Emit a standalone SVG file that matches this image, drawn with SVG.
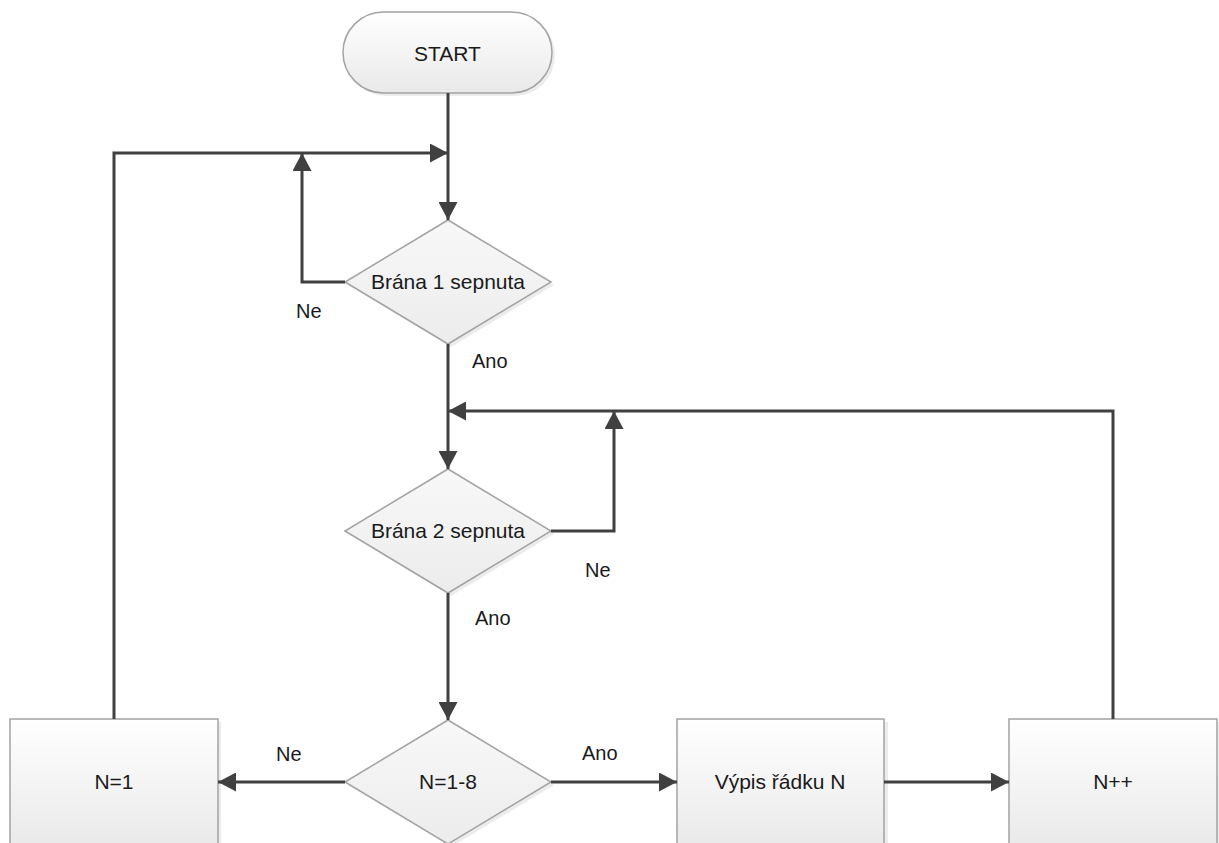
<svg xmlns="http://www.w3.org/2000/svg" width="1219" height="843" viewBox="0 0 1219 843">
<style>
.shape{stroke:#a3a3a3;stroke-width:1.5;}
.txt{font-family:"Liberation Sans",Arial,sans-serif;font-size:20px;fill:#1a1a1a;}
.big{font-size:21px;}
.mid{text-anchor:middle;}
.conn{fill:none;stroke:#404040;stroke-width:3;}
.shadow{fill:#d9d9d9;opacity:0.5;}
</style>
<defs>
<linearGradient id="g" x1="0" y1="0" x2="0" y2="1">
<stop offset="0" stop-color="#ffffff"/>
<stop offset="1" stop-color="#e9e9e9"/>
</linearGradient>
<linearGradient id="gd" x1="0" y1="0" x2="0" y2="1">
<stop offset="0" stop-color="#f8f8f8"/>
<stop offset="1" stop-color="#ececec"/>
</linearGradient>
<marker id="arr" markerUnits="userSpaceOnUse" markerWidth="19" markerHeight="19" refX="18" refY="9.5" orient="auto">
<path d="M0,0 L18,9.5 L0,19 z" fill="#404040"/>
</marker>
</defs>
<rect width="1219" height="843" fill="#ffffff"/>

<g id="start">
<rect class="shadow" x="346" y="15" width="209" height="81" rx="40.5"/>
<rect class="shape" x="343" y="12" width="209" height="81" rx="40.5" fill="url(#g)"/>
<text class="txt big mid" x="447.5" y="61">START</text>
</g>

<g id="d1">
<polygon class="shadow" points="451,223 554,285 451,347 348,285"/>
<polygon class="shape" points="448,220 551,282 448,344 345,282" fill="url(#gd)"/>
<text class="txt big mid" x="448" y="289">Brána 1 sepnuta</text>
</g>

<g id="d2">
<polygon class="shadow" points="451,472 554,534 451,596 348,534"/>
<polygon class="shape" points="448,469 551,531 448,593 345,531" fill="url(#gd)"/>
<text class="txt big mid" x="448" y="538">Brána 2 sepnuta</text>
</g>

<g id="d3">
<polygon class="shadow" points="451,723 554,785 451,847 348,785"/>
<polygon class="shape" points="448,720 551,782 448,844 345,782" fill="url(#gd)"/>
<text class="txt big mid" x="448" y="789">N=1-8</text>
</g>

<g id="n1">
<rect class="shadow" x="13" y="722" width="208" height="130"/>
<rect class="shape" x="10" y="719" width="208" height="130" fill="url(#g)"/>
<text class="txt big mid" x="114" y="789">N=1</text>
</g>

<g id="vypis">
<rect class="shadow" x="680" y="722" width="208" height="130"/>
<rect class="shape" x="677" y="719" width="207" height="130" fill="url(#g)"/>
<text class="txt big mid" x="780" y="789">Výpis řádku N</text>
</g>

<g id="ninc">
<rect class="shadow" x="1012" y="722" width="208" height="130"/>
<rect class="shape" x="1009" y="719" width="208" height="130" fill="url(#g)"/>
<text class="txt big mid" x="1113" y="789">N++</text>
</g>

<g id="connectors">
<path class="conn" d="M448,93 L448,220" marker-end="url(#arr)"/>
<path class="conn" d="M345,282 L302,282 L302,153" marker-end="url(#arr)"/>
<path class="conn" d="M114,719 L114,153 L448,153" marker-end="url(#arr)"/>
<path class="conn" d="M448,344 L448,469" marker-end="url(#arr)"/>
<path class="conn" d="M551,531 L614,531 L614,411" marker-end="url(#arr)"/>
<path class="conn" d="M1113,719 L1113,411 L448,411" marker-end="url(#arr)"/>
<path class="conn" d="M448,593 L448,720" marker-end="url(#arr)"/>
<path class="conn" d="M345,782 L218,782" marker-end="url(#arr)"/>
<path class="conn" d="M551,782 L677,782" marker-end="url(#arr)"/>
<path class="conn" d="M884,782 L1009,782" marker-end="url(#arr)"/>
</g>

<g id="labels">
<text class="txt" x="296" y="318">Ne</text>
<text class="txt" x="472" y="368">Ano</text>
<text class="txt" x="585" y="577">Ne</text>
<text class="txt" x="475" y="625">Ano</text>
<text class="txt" x="276" y="761">Ne</text>
<text class="txt" x="582" y="760">Ano</text>
</g>
</svg>
